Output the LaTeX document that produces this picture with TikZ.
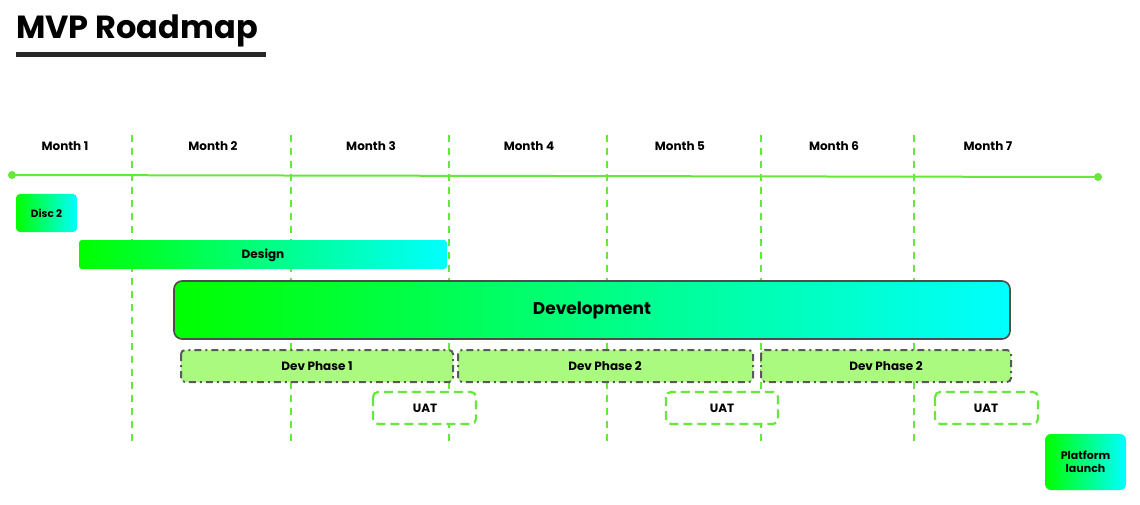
\documentclass[tikz,border=0pt]{standalone}
\usepackage{fontspec}
\setmainfont{Poppins}
\begin{document}
\begin{tikzpicture}[x=1pt,y=-1pt,
  grad/.style={rounded corners=4pt,left color=green,right color=cyan,draw=none},
  lbl/.style={font=\fontsize{12}{14}\selectfont\bfseries,text=black},
  phase/.style={draw=black!65,line width=2pt,dash pattern=on 7pt off 4pt on 2pt off 4pt,fill=green2,rounded corners=4pt},
  uat/.style={draw=lgreen,line width=2.2pt,dash pattern=on 9pt off 5pt,fill=white,rounded corners=5pt},
  vline/.style={draw=lgreen,line width=1.6pt,dash pattern=on 7pt off 6pt}]
\definecolor{lgreen}{HTML}{66E83A}
\definecolor{green2}{HTML}{AAFA80}
\useasboundingbox (0,0) rectangle (1140,505);
\node[anchor=base west,font=\fontsize{32}{36}\selectfont\bfseries,inner sep=0] (title) at (16,39) {MVP Roadmap};
\fill[black!85] (16,52) rectangle (266,57);
\foreach \x/\n in {132/a,291/b,449/c,607/d,761/e,914/f}
  \draw[vline] (\x,135) coordinate (\n1) -- (\x,445) coordinate (\n2);
\foreach \x/\m in {65/1,213/2,371/3,529/4,680/5,834/6,988/7}
  \node[lbl] (m\m) at (\x,146) {Month \m};
\fill[lgreen] (12,175) circle (4) coordinate (t0);
\fill[lgreen] (1098,177) circle (4) coordinate (t1);
\draw[lgreen,line width=2pt] (t0) -- (t1);
\shade[grad] (16,194) rectangle (77,232);
\node[lbl,font=\fontsize{10.5}{12}\selectfont\bfseries] (disc) at (46.5,213) {Disc 2};
\shade[grad,rounded corners=3pt] (79,240) rectangle (447,269);
\node[lbl] (design) at (263,255) {Design};
\shade[grad,rounded corners=8pt] (174,281) rectangle (1010,339);
\draw[black!70,line width=1.6pt,rounded corners=8pt] (174,281) rectangle (1010,339);
\node[lbl,font=\fontsize{17}{20}\selectfont\bfseries] (dev) at (592,310) {Development};
\draw[phase] (181,350) rectangle (453,382);
\node[lbl] (p1) at (317,366) {Dev Phase 1};
\draw[phase] (458,350) rectangle (753,382);
\node[lbl] (p2) at (605,366) {Dev Phase 2};
\draw[phase] (761,350) rectangle (1011,382);
\node[lbl] (p3) at (886,366) {Dev Phase 2};
\draw[uat] (373,392) rectangle (476,424);
\node[lbl] (u1) at (425,408) {UAT};
\draw[uat] (666,392) rectangle (778,424);
\node[lbl] (u2) at (722,408) {UAT};
\draw[uat] (935,392) rectangle (1038,424);
\node[lbl] (u3) at (986,408) {UAT};
\shade[grad,rounded corners=6pt] (1045,434) rectangle (1126,490);
\node[lbl,font=\fontsize{11}{13}\selectfont\bfseries,align=center] (pl) at (1085.5,462) {Platform\\launch};
\end{tikzpicture}
\end{document}
